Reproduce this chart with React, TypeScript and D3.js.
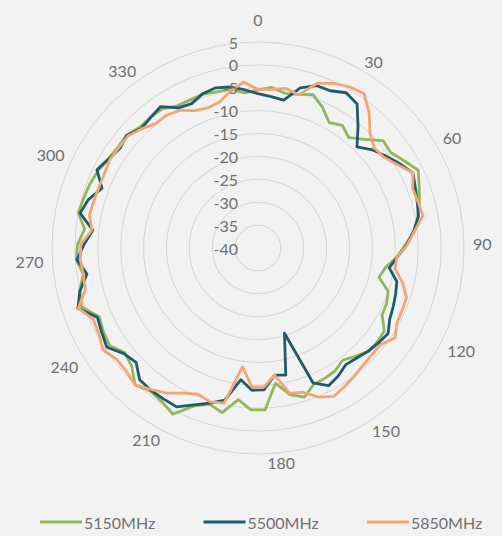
import React from 'react';
import * as d3 from 'd3';

// Category axis: azimuth angle in degrees (Excel radar categories, 0..360 step 5)
const categories = [
  0, 5, 10, 15, 20, 25, 30, 35, 40, 45, 50, 55, 60, 65, 70, 75, 80, 85, 90, 95,
  100, 105, 110, 115, 120, 125, 130, 135, 140, 145, 150, 155, 160, 165, 170, 175,
  180, 185, 190, 195, 200, 205, 210, 215, 220, 225, 230, 235, 240, 245, 250, 255,
  260, 265, 270, 275, 280, 285, 290, 295, 300, 305, 310, 315, 320, 325, 330, 335,
  340, 345, 350, 355, 360,
];

const shownCategoryLabels = [0, 30, 60, 90, 120, 150, 180, 210, 240, 270, 300, 330];

const radialTicks = [5, 0, -5, -10, -15, -20, -25, -30, -35, -40];

const seriesNames = ['5150MHz', '5500MHz', '5850MHz'];
const seriesColors = ['#93b65a', '#1f5b6e', '#f2a675'];

const gain5150 = [
  -5.5, -4.8, -5.7, -5.3, -4.4, -6.2, -8.5, -7.5, -8.8, -6.8,
  -4.0, -4.3, -2.8, -1.1, -2.3, -3.3, -4.4, -5.6, -7.8, -9.6,
  -11.8, -12.8, -10.0, -9.4, -9.2, -7.0, -6.8, -7.0, -8.2, -9.3,
  -8.3, -8.0, -7.8, -5.9, -7.2, -10.2, -4.6, -4.6, -6.6, -3.2,
  -4.3, -2.7, 0.8, -0.4, -0.9, 0.2, -2.2, -3.0, -1.2, -1.6,
  -2.2, 0.6, 0.1, -1.4, -0.2, -0.6, -1.9, 0.0, -0.4, -0.7,
  -1.2, -2.0, -2.3, -2.2, -3.1, -3.0, -3.1, -4.3, -4.4, -4.3,
  -4.7, -4.8, -6.0,
];

const gain5500 = [
  -6.3, -6.8, -7.2, -3.8, -2.3, -2.2, -1.0, -1.8, -5.6, -9.1,
  -7.1, -5.6, -4.0, -2.4, -3.2, -3.8, -4.3, -5.8, -7.5, -9.5,
  -11.0, -8.8, -8.3, -7.8, -7.3, -6.0, -6.5, -7.0, -7.7, -8.1,
  -7.0, -6.2, -8.2, -20.5, -11.6, -12.0, -9.0, -8.9, -11.0, -6.0,
  -4.5, -3.0, -1.0, -1.1, -1.1, -1.3, -3.5, -2.7, -0.5, -1.2,
  -1.8, 1.5, 0.0, -2.2, -0.4, -2.0, -3.7, -0.4, -1.5, -3.5,
  -0.9, -2.0, -2.8, -2.2, -3.5, -3.1, -2.5, -4.8, -5.3, -4.2,
  -3.8, -4.3, -5.3,
];

const gain5850 = [
  -5.4, -5.2, -4.6, -5.4, -1.8, -0.4, 0.5, 0.9, -1.8, -5.0,
  -6.5, -6.1, -4.5, -2.4, -3.8, -3.6, -3.3, -5.6, -7.4, -9.6,
  -9.7, -7.5, -5.8, -5.7, -5.5, -4.2, -5.9, -5.9, -5.6, -5.0,
  -4.3, -3.6, -4.8, -7.0, -7.5, -12.0, -9.6, -9.6, -13.8, -5.3,
  -4.8, -5.5, -4.4, -2.6, -1.3, 0.2, -0.6, -0.7, 0.5, -0.5,
  -0.8, 1.4, -1.2, -1.4, -1.1, -1.3, -3.5, -2.5, -2.7, -2.8,
  -2.7, -2.3, -2.5, -2.5, -3.6, -4.8, -4.8, -5.4, -7.0, -7.5,
  -7.0, -5.2, -3.6,
];

const allSeries = [gain5150, gain5500, gain5850];

const W = 502;
const H = 536;
const CX = 258;
const CY = 248;
const R_OUT = 206;
const LABEL_R = 215;
const FONT = 'Lato, "Open Sans", sans-serif';
const TEXT_COLOR = '#707070';

export default function App() {
  const r = d3.scaleLinear().domain([-40, 5]).range([0, R_OUT]);
  const a = d3
    .scaleLinear()
    .domain([0, categories.length])
    .range([0, 2 * Math.PI]);

  const line = d3
    .lineRadial<number>()
    .angle((_, i) => a(i))
    .radius((d) => r(d))
    .curve(d3.curveLinearClosed);

  const legendX = d3.scalePoint<number>().domain([0, 1, 2]).range([40, 367]);

  return (
    <svg
      width={W}
      height={H}
      style={{ position: 'absolute', left: 0, top: 0, background: '#f2f2f2' }}
      fontFamily={FONT}
    >
      <rect x={0} y={0} width={W} height={H} fill="#f2f2f2" />
      <g transform={`translate(${CX},${CY})`}>
        {radialTicks.map((t) => (
          <circle key={t} r={r(t)} fill="none" stroke="#d6d6d6" strokeWidth={1} />
        ))}
        {allSeries.map((s, si) => (
          <path
            key={si}
            d={line(s) || ''}
            fill="none"
            stroke={seriesColors[si]}
            strokeWidth={2.8}
            strokeLinejoin="round"
          />
        ))}
        {radialTicks.map((t) => (
          <text
            key={t}
            x={-20}
            y={-r(t)}
            textAnchor="end"
            dominantBaseline="central"
            fontSize={16}
            fill={TEXT_COLOR}
          >
            {t}
          </text>
        ))}
        {categories.map((c, i) => {
          if (!shownCategoryLabels.includes(c)) return null;
          const ang = a(i);
          const sx = Math.sin(ang);
          const cy = Math.cos(ang);
          const x = LABEL_R * sx;
          let y = -LABEL_R * cy;
          let anchor: 'start' | 'middle' | 'end' = 'middle';
          if (sx > 0.02) anchor = 'start';
          else if (sx < -0.02) anchor = 'end';
          else if (cy > 0) y -= 14;
          return (
            <text
              key={c}
              x={x}
              y={y}
              textAnchor={anchor}
              dominantBaseline="central"
              fontSize={16}
              fill={TEXT_COLOR}
            >
              {c}
            </text>
          );
        })}
      </g>
      <g>
        {seriesNames.map((n, i) => {
          const x0 = legendX(i) as number;
          return (
            <g key={n} transform={`translate(${x0},522)`}>
              <line x1={0} x2={42} y1={0} y2={0} stroke={seriesColors[i]} strokeWidth={2.8} />
              <text x={44} y={0} dominantBaseline="central" fontSize={16} fill={TEXT_COLOR}>
                {n}
              </text>
            </g>
          );
        })}
      </g>
    </svg>
  );
}
